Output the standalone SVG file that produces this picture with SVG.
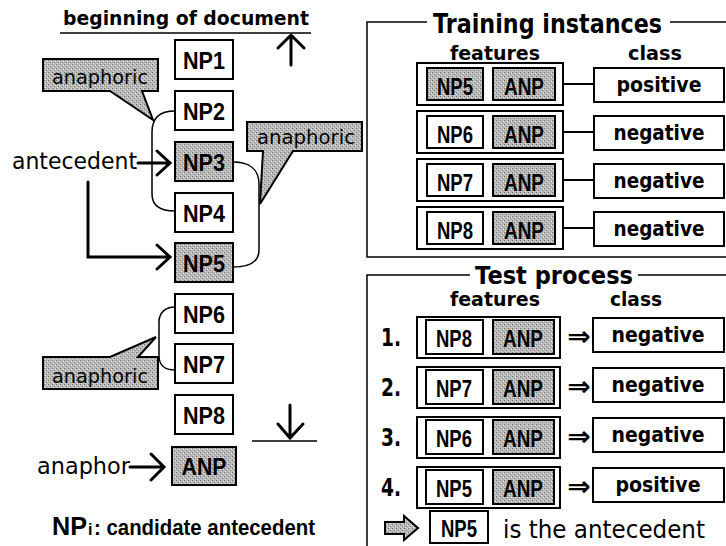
<svg xmlns="http://www.w3.org/2000/svg" width="726" height="546" viewBox="0 0 726 546">
  <defs>
    <!-- stippled grey fill used for highlighted boxes and callouts -->
    <pattern id="stip" width="4" height="4" patternUnits="userSpaceOnUse">
      <rect width="4" height="4" fill="#b9b9b9"/>
      <rect x="0" y="0" width="1" height="1" fill="#6e6e6e"/>
      <rect x="2" y="2" width="1" height="1" fill="#808080"/>
      <rect x="3" y="1" width="1" height="1" fill="#e2e2e2"/>
      <rect x="1" y="3" width="1" height="1" fill="#dcdcdc"/>
    </pattern>
    <style>
      .box { fill: #fff; stroke: #000; stroke-width: 2; }
      .gbox { fill: url(#stip); stroke: #000; stroke-width: 2; }
      .frame { fill: none; stroke: #000; stroke-width: 1.5; }
      .arr { fill: none; stroke: #000; stroke-width: 3; stroke-linecap: round; stroke-linejoin: miter; }
      .brk { fill: none; stroke: #000; stroke-width: 1.5; }
      .lbl { font-family: "Liberation Sans", Arial, sans-serif; font-weight: bold; text-anchor: middle; fill: #000; }
      .hd { font-family: "DejaVu Sans", Verdana, sans-serif; font-weight: bold; fill: #000; }
      .tx { font-family: "DejaVu Sans", Verdana, sans-serif; fill: #000; }
      .num { font-family: "DejaVu Sans", Verdana, sans-serif; font-weight: bold; fill: #000; }
      .imp { font-family: "DejaVu Sans", sans-serif; font-weight: bold; text-anchor: middle; fill: #000; }
    </style>
  </defs>

  <!-- document order axis -->
  <g id="doc-start">
    <text class="hd" x="63" y="25" font-size="20" textLength="246" lengthAdjust="spacingAndGlyphs">beginning of document</text>
    <line x1="60" y1="33" x2="311" y2="33" stroke="#000" stroke-width="1.5"/>
    <path class="arr" d="M291,65 V35 M278,48 L291,35 L304,48"/>
  </g>

  <!-- candidate noun phrases -->
  <g id="np1"><rect class="box" x="175" y="40" width="58" height="39"/><text class="lbl" x="204" y="69" font-size="23" textLength="42" lengthAdjust="spacingAndGlyphs">NP1</text></g>
  <g id="np2"><rect class="box" x="175" y="91" width="58" height="39"/><text class="lbl" x="204" y="120" font-size="23" textLength="42" lengthAdjust="spacingAndGlyphs">NP2</text></g>
  <g id="np3"><rect class="gbox" x="175" y="142" width="58" height="39"/><text class="lbl" x="204" y="171" font-size="23" textLength="42" lengthAdjust="spacingAndGlyphs">NP3</text></g>
  <g id="np4"><rect class="box" x="175" y="193" width="58" height="39"/><text class="lbl" x="204" y="222" font-size="23" textLength="42" lengthAdjust="spacingAndGlyphs">NP4</text></g>
  <g id="np5"><rect class="gbox" x="175" y="243" width="58" height="39"/><text class="lbl" x="204" y="272" font-size="23" textLength="42" lengthAdjust="spacingAndGlyphs">NP5</text></g>
  <g id="np6"><rect class="box" x="175" y="294" width="58" height="39"/><text class="lbl" x="204" y="323" font-size="23" textLength="42" lengthAdjust="spacingAndGlyphs">NP6</text></g>
  <g id="np7"><rect class="box" x="175" y="344" width="58" height="39"/><text class="lbl" x="204" y="373" font-size="23" textLength="42" lengthAdjust="spacingAndGlyphs">NP7</text></g>
  <g id="np8"><rect class="box" x="175" y="395" width="58" height="39"/><text class="lbl" x="204" y="424" font-size="23" textLength="42" lengthAdjust="spacingAndGlyphs">NP8</text></g>
  <g id="anp"><rect class="gbox" x="172" y="447" width="64" height="38"/><text class="lbl" x="204" y="475" font-size="23" textLength="45" lengthAdjust="spacingAndGlyphs">ANP</text></g>

  <!-- callouts -->
  <g id="callout-1">
    <path class="gbox" stroke-width="1.5" d="M43,59 H158 V91 H142 L153,120 L110,91 H43 Z"/>
    <text class="tx" x="52" y="84" font-size="20" textLength="96" lengthAdjust="spacingAndGlyphs">anaphoric</text>
  </g>
  <g id="callout-2">
    <path class="gbox" stroke-width="1.5" d="M247,122 H362 V151 H293 L260,204 L263,151 H247 Z"/>
    <text class="tx" x="257" y="144" font-size="20" textLength="98" lengthAdjust="spacingAndGlyphs">anaphoric</text>
  </g>
  <g id="callout-3">
    <path class="gbox" stroke-width="1.5" d="M43,357 H110 L156,337 L138,357 H158 V389 H43 Z"/>
    <text class="tx" x="52" y="383" font-size="20" textLength="96" lengthAdjust="spacingAndGlyphs">anaphoric</text>
  </g>

  <!-- labels on the left -->
  <g id="antecedent-label">
    <text class="tx" x="12" y="169" font-size="23" textLength="125" lengthAdjust="spacingAndGlyphs">antecedent</text>
  </g>
  <g id="anaphor-label">
    <text class="tx" x="37" y="474" font-size="23" textLength="93" lengthAdjust="spacingAndGlyphs">anaphor</text>
  </g>

  <!-- end of document marker -->
  <g id="doc-end">
    <line x1="252" y1="441" x2="317" y2="441" stroke="#000" stroke-width="1.5"/>
    <path class="arr" d="M290,405 V438 M278,424 L290,438 L303,424"/>
  </g>

  <!-- connectors: brackets and arrows -->
  <g id="connectors">
    <path class="brk" d="M175,111 C160,111 152,118 152,132 V194 C152,206 160,211 175,211"/>
    <path class="brk" d="M233,162 C250,162 259,170 259,184 V250 C259,262 250,267 233,267"/>
    <path class="brk" d="M175,307 C165,307 159,313 159,322 V356 C159,365 165,370 175,370"/>
    <path class="arr" d="M138,163 H169 M157,151 L170,163 L157,175"/>
    <path class="arr" d="M88,182 V257 H169 M157,245 L170,257 L157,269"/>
    <path class="arr" d="M130,467 H163 M151,454 L164,467 L151,480"/>
  </g>

  <!-- legend -->
  <g id="legend">
    <text class="lbl" x="52" y="535" font-size="25" style="text-anchor:start" textLength="35" lengthAdjust="spacingAndGlyphs">NP</text>
    <text class="lbl" x="88" y="535" font-size="16" style="text-anchor:start">i</text>
    <text class="lbl" x="94" y="535" font-size="22" style="text-anchor:start" textLength="221" lengthAdjust="spacingAndGlyphs">: candidate antecedent</text>
  </g>

  <!-- training instances panel -->
  <g id="training-frame">
    <path class="frame" d="M427,22 H367 V257 H726 M670,22 H726"/>
    <text class="hd" x="433" y="33" font-size="26" textLength="229" lengthAdjust="spacingAndGlyphs">Training instances</text>
    <text class="hd" x="450" y="60" font-size="20" textLength="90" lengthAdjust="spacingAndGlyphs">features</text>
    <text class="hd" x="628" y="60" font-size="20" textLength="54" lengthAdjust="spacingAndGlyphs">class</text>
  </g>

  <g id="train-1">
    <rect class="box" x="417" y="63" width="146" height="42"/>
    <rect class="gbox" x="427" y="68" width="56" height="32"/><text class="lbl" x="455" y="95" font-size="24" textLength="36" lengthAdjust="spacingAndGlyphs">NP5</text>
    <rect class="gbox" x="493" y="68" width="62" height="32"/><text class="lbl" x="524" y="95" font-size="24" textLength="40" lengthAdjust="spacingAndGlyphs">ANP</text>
    <line x1="563" y1="84" x2="594" y2="84" stroke="#000" stroke-width="2"/>
    <rect class="box" x="594" y="68" width="130" height="34"/><text class="hd" x="659" y="92" font-size="21" text-anchor="middle" textLength="85" lengthAdjust="spacingAndGlyphs">positive</text>
  </g>
  <g id="train-2">
    <rect class="box" x="417" y="111" width="146" height="42"/>
    <rect class="box" x="427" y="116" width="56" height="32"/><text class="lbl" x="455" y="143" font-size="24" textLength="36" lengthAdjust="spacingAndGlyphs">NP6</text>
    <rect class="gbox" x="493" y="116" width="62" height="32"/><text class="lbl" x="524" y="143" font-size="24" textLength="40" lengthAdjust="spacingAndGlyphs">ANP</text>
    <line x1="563" y1="132" x2="594" y2="132" stroke="#000" stroke-width="2"/>
    <rect class="box" x="594" y="116" width="130" height="34"/><text class="hd" x="659" y="140" font-size="21" text-anchor="middle" textLength="91" lengthAdjust="spacingAndGlyphs">negative</text>
  </g>
  <g id="train-3">
    <rect class="box" x="417" y="159" width="146" height="42"/>
    <rect class="box" x="427" y="164" width="56" height="32"/><text class="lbl" x="455" y="191" font-size="24" textLength="36" lengthAdjust="spacingAndGlyphs">NP7</text>
    <rect class="gbox" x="493" y="164" width="62" height="32"/><text class="lbl" x="524" y="191" font-size="24" textLength="40" lengthAdjust="spacingAndGlyphs">ANP</text>
    <line x1="563" y1="180" x2="594" y2="180" stroke="#000" stroke-width="2"/>
    <rect class="box" x="594" y="164" width="130" height="34"/><text class="hd" x="659" y="188" font-size="21" text-anchor="middle" textLength="91" lengthAdjust="spacingAndGlyphs">negative</text>
  </g>
  <g id="train-4">
    <rect class="box" x="417" y="207" width="146" height="42"/>
    <rect class="box" x="427" y="212" width="56" height="32"/><text class="lbl" x="455" y="239" font-size="24" textLength="36" lengthAdjust="spacingAndGlyphs">NP8</text>
    <rect class="gbox" x="493" y="212" width="62" height="32"/><text class="lbl" x="524" y="239" font-size="24" textLength="40" lengthAdjust="spacingAndGlyphs">ANP</text>
    <line x1="563" y1="228" x2="594" y2="228" stroke="#000" stroke-width="2"/>
    <rect class="box" x="594" y="212" width="130" height="34"/><text class="hd" x="659" y="236" font-size="21" text-anchor="middle" textLength="91" lengthAdjust="spacingAndGlyphs">negative</text>
  </g>

  <!-- test process panel -->
  <g id="test-frame">
    <path class="frame" d="M470,275 H367 V546 M638,275 H726"/>
    <text class="hd" x="475" y="284" font-size="25" textLength="158" lengthAdjust="spacingAndGlyphs">Test process</text>
    <text class="hd" x="450" y="306" font-size="19" textLength="90" lengthAdjust="spacingAndGlyphs">features</text>
    <text class="hd" x="610" y="306" font-size="19" textLength="52" lengthAdjust="spacingAndGlyphs">class</text>
  </g>

  <g id="test-1">
    <text class="num" x="381" y="346" font-size="24" textLength="20" lengthAdjust="spacingAndGlyphs">1.</text>
    <rect class="box" x="417" y="317" width="143" height="41"/>
    <rect class="box" x="426" y="320" width="57" height="34"/><text class="lbl" x="454" y="347" font-size="23" textLength="36" lengthAdjust="spacingAndGlyphs">NP8</text>
    <rect class="gbox" x="493" y="320" width="61" height="34"/><text class="lbl" x="523" y="347" font-size="23" textLength="40" lengthAdjust="spacingAndGlyphs">ANP</text>
    <text class="imp" x="579" y="346" font-size="28">⇒</text>
    <rect class="box" x="593" y="318" width="131" height="34"/><text class="hd" x="658" y="342" font-size="21" text-anchor="middle" textLength="93" lengthAdjust="spacingAndGlyphs">negative</text>
  </g>
  <g id="test-2">
    <text class="num" x="381" y="396" font-size="24" textLength="20" lengthAdjust="spacingAndGlyphs">2.</text>
    <rect class="box" x="417" y="367" width="143" height="41"/>
    <rect class="box" x="426" y="370" width="57" height="34"/><text class="lbl" x="454" y="397" font-size="23" textLength="36" lengthAdjust="spacingAndGlyphs">NP7</text>
    <rect class="gbox" x="493" y="370" width="61" height="34"/><text class="lbl" x="523" y="397" font-size="23" textLength="40" lengthAdjust="spacingAndGlyphs">ANP</text>
    <text class="imp" x="579" y="396" font-size="28">⇒</text>
    <rect class="box" x="593" y="368" width="131" height="34"/><text class="hd" x="658" y="392" font-size="21" text-anchor="middle" textLength="93" lengthAdjust="spacingAndGlyphs">negative</text>
  </g>
  <g id="test-3">
    <text class="num" x="381" y="446" font-size="24" textLength="20" lengthAdjust="spacingAndGlyphs">3.</text>
    <rect class="box" x="417" y="417" width="143" height="41"/>
    <rect class="box" x="426" y="420" width="57" height="34"/><text class="lbl" x="454" y="447" font-size="23" textLength="36" lengthAdjust="spacingAndGlyphs">NP6</text>
    <rect class="gbox" x="493" y="420" width="61" height="34"/><text class="lbl" x="523" y="447" font-size="23" textLength="40" lengthAdjust="spacingAndGlyphs">ANP</text>
    <text class="imp" x="579" y="446" font-size="28">⇒</text>
    <rect class="box" x="593" y="418" width="131" height="34"/><text class="hd" x="658" y="442" font-size="21" text-anchor="middle" textLength="93" lengthAdjust="spacingAndGlyphs">negative</text>
  </g>
  <g id="test-4">
    <text class="num" x="381" y="496" font-size="24" textLength="20" lengthAdjust="spacingAndGlyphs">4.</text>
    <rect class="box" x="417" y="467" width="143" height="41"/>
    <rect class="box" x="426" y="470" width="57" height="34"/><text class="lbl" x="454" y="497" font-size="23" textLength="36" lengthAdjust="spacingAndGlyphs">NP5</text>
    <rect class="gbox" x="493" y="470" width="61" height="34"/><text class="lbl" x="523" y="497" font-size="23" textLength="40" lengthAdjust="spacingAndGlyphs">ANP</text>
    <text class="imp" x="579" y="496" font-size="28">⇒</text>
    <rect class="box" x="593" y="468" width="131" height="34"/><text class="hd" x="658" y="492" font-size="21" text-anchor="middle" textLength="85" lengthAdjust="spacingAndGlyphs">positive</text>
  </g>

  <!-- result line -->
  <g id="result">
    <path class="gbox" stroke-width="1.5" d="M385,522 H404 V516 L418,528 L404,540 V534 H385 Z"/>
    <rect class="box" x="430" y="511" width="58" height="32"/>
    <text class="lbl" x="459" y="537" font-size="23" textLength="36" lengthAdjust="spacingAndGlyphs">NP5</text>
    <text class="tx" x="503" y="538" font-size="25" textLength="202" lengthAdjust="spacingAndGlyphs">is the antecedent</text>
  </g>
</svg>
